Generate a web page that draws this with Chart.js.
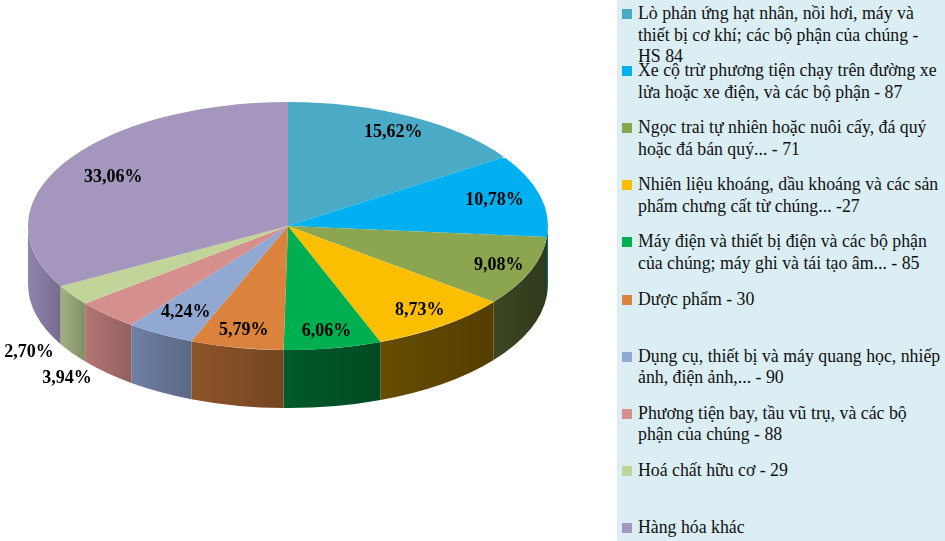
<!DOCTYPE html>
<html lang="vi">
<head>
<meta charset="utf-8">
<title>Cơ cấu hàng hóa</title>
<script src="https://cdn.jsdelivr.net/npm/chart.js@4.4.1/dist/chart.umd.min.js"></script>
<style>
    html, body { margin: 0; padding: 0; background: #ffffff; }
    #wrap { position: relative; width: 945px; height: 541px; overflow: hidden; }
    #pieChart { position: absolute; left: 0; top: 0; }
    #legend {
        position: absolute; left: 617px; top: 0; width: 328px; height: 541px;
        background: #dbeef4;
        font-family: 'Times New Roman', 'Liberation Serif', serif;
        font-size: 17.8px; color: #111;
    }
    .legend-item { position: absolute; left: 0; width: 328px; }
    .legend-item .box { position: absolute; left: 5px; top: 6px; width: 10px; height: 10px; }
    .legend-item .text { position: absolute; left: 21px; top: 0; line-height: 21.5px; white-space: nowrap; }
</style>
</head>
<body>
<div id="wrap">
    <canvas id="pieChart" width="945" height="541"></canvas>
    <div id="legend"></div>
</div>
<script>
// Categories (HS chapters) and their shares, clockwise from 12 o'clock
const categories = [
    ['Lò phản ứng hạt nhân, nồi hơi, máy và', 'thiết bị cơ khí; các bộ phận của chúng -', 'HS 84'],
    ['Xe cộ trừ phương tiện chạy trên đường xe', 'lửa hoặc xe điện, và các bộ phận - 87'],
    ['Ngọc trai tự nhiên hoặc nuôi cấy, đá quý', 'hoặc đá bán quý... - 71'],
    ['Nhiên liệu khoáng, dầu khoáng và các sản', 'phẩm chưng cất từ chúng... -27'],
    ['Máy điện và thiết bị điện và các bộ phận', 'của chúng; máy ghi và tái tạo âm... - 85'],
    ['Dược phẩm - 30'],
    ['Dụng cụ, thiết bị và máy quang học, nhiếp', 'ảnh, điện ảnh,... - 90'],
    ['Phương tiện bay, tầu vũ trụ, và các bộ', 'phận của chúng - 88'],
    ['Hoá chất hữu cơ - 29'],
    ['Hàng hóa khác']
];
const shares = [15.62, 10.78, 9.08, 8.73, 6.06, 5.79, 4.24, 3.94, 2.70, 33.06];

const topColors = ['#4babc6', '#00b0f0', '#8ba64f', '#fcbe00', '#00b050', '#db823d', '#91a8d2', '#d5908e', '#c1d59a', '#a496bd'];
const sideColors = ['#2f7a8e', '#00779f', '#3b4722', '#674c00', '#005a2a', '#8e5428', '#6f80a3', '#b37574', '#a0b07e', '#9184ad'];

// 3D look: squash the pie into an ellipse and give it a rim
const TILT = 0.477;       // vertical/horizontal radius ratio
const DEPTH = 58;         // rim height in px
const CENTER_Y = 226;     // where the ellipse centre sits on screen
// how far out each percentage sits, as a fraction of the radius
const labelRadius = [0.86, 0.82, 0.87, 0.85, 0.86, 0.86, 0.8, 1.22, 1.2, 0.78];
const outsideLabels = [7, 8];

function rimSegments(start, end) {
    const segs = [];
    for (const shift of [-2 * Math.PI, 0, 2 * Math.PI]) {
        const a = Math.max(start, shift);
        const b = Math.min(end, shift + Math.PI);
        if (b > a) segs.push([a, b]);
    }
    return segs;
}

function shade(hex, k) {
    const n = parseInt(hex.slice(1), 16);
    const r = Math.round(((n >> 16) & 255) * k);
    const g = Math.round(((n >> 8) & 255) * k);
    const b = Math.round((n & 255) * k);
    return `rgb(${r}, ${g}, ${b})`;
}

const pie3d = {
    id: 'pie3d',
    beforeDatasetsDraw(chart) {
        const ctx = chart.ctx;
        const arcs = chart.getDatasetMeta(0).data;
        arcs.forEach((arc, i) => {
            const p = arc.getProps(['x', 'y', 'startAngle', 'endAngle', 'outerRadius'], true);
            const rx = p.outerRadius, ry = p.outerRadius * TILT;
            const cx = p.x, cy = CENTER_Y;
            rimSegments(p.startAngle, p.endAngle).forEach(([a, b]) => {
                const x1 = cx + rx * Math.cos(a), x2 = cx + rx * Math.cos(b);
                const grad = ctx.createLinearGradient(Math.min(x1, x2), 0, Math.max(x1, x2), 0);
                grad.addColorStop(0, sideColors[i]);
                grad.addColorStop(1, shade(sideColors[i], 0.82));
                ctx.beginPath();
                ctx.ellipse(cx, cy, rx, ry, 0, a, b);
                ctx.lineTo(cx + rx * Math.cos(b), cy + ry * Math.sin(b) + DEPTH);
                ctx.ellipse(cx, cy + DEPTH, rx, ry, 0, b, a, true);
                ctx.closePath();
                ctx.fillStyle = grad;
                ctx.fill();
            });
        });
        // squash the top surface that the library draws next
        const p0 = arcs[0].getProps(['x', 'y'], true);
        ctx.save();
        ctx.translate(p0.x, CENTER_Y);
        ctx.scale(1, TILT);
        ctx.translate(-p0.x, -p0.y);
    },
    afterDatasetsDraw(chart) {
        const ctx = chart.ctx;
        ctx.restore();
        const arcs = chart.getDatasetMeta(0).data;
        ctx.font = 'bold 18px "Times New Roman", "Liberation Serif", serif';
        ctx.fillStyle = '#000';
        ctx.textAlign = 'center';
        ctx.textBaseline = 'middle';
        arcs.forEach((arc, i) => {
            const p = arc.getProps(['x', 'y', 'startAngle', 'endAngle', 'outerRadius'], true);
            const mid = (p.startAngle + p.endAngle) / 2;
            const f = labelRadius[i];
            const x = p.x + Math.cos(mid) * p.outerRadius * f;
            let y = CENTER_Y + Math.sin(mid) * p.outerRadius * f * TILT;
            if (outsideLabels.includes(i)) y += DEPTH * 0.75;
            const txt = shares[i].toFixed(2).replace('.', ',') + '%';
            ctx.fillText(txt, x, y);
        });
    }
};

const chart = new Chart(document.getElementById('pieChart'), {
    type: 'pie',
    data: {
        labels: categories,
        datasets: [{
            data: shares,
            backgroundColor: topColors,
            borderWidth: 0,
            hoverOffset: 0
        }]
    },
    options: {
        responsive: false,
        animation: false,
        layout: { padding: { left: 28, right: 397, top: 10, bottom: 11 } },
        plugins: {
            legend: { display: false },
            tooltip: { enabled: false }
        }
    },
    plugins: [pie3d]
});

// HTML legend built from the chart's own labels and colours
function buildLegend() {
    const legend = document.getElementById('legend');
    legend.innerHTML = '';
    chart.data.labels.forEach((lines, i) => {
        const item = document.createElement('div');
        item.className = 'legend-item';
        item.style.top = (3 + i * 57.1) + 'px';
        const box = document.createElement('span');
        box.className = 'box';
        box.style.background = chart.data.datasets[0].backgroundColor[i];
        const text = document.createElement('span');
        text.className = 'text';
        text.innerHTML = lines.join('<br>');
        item.appendChild(box);
        item.appendChild(text);
        legend.appendChild(item);
    });
}
buildLegend();
</script>
</body>
</html>
